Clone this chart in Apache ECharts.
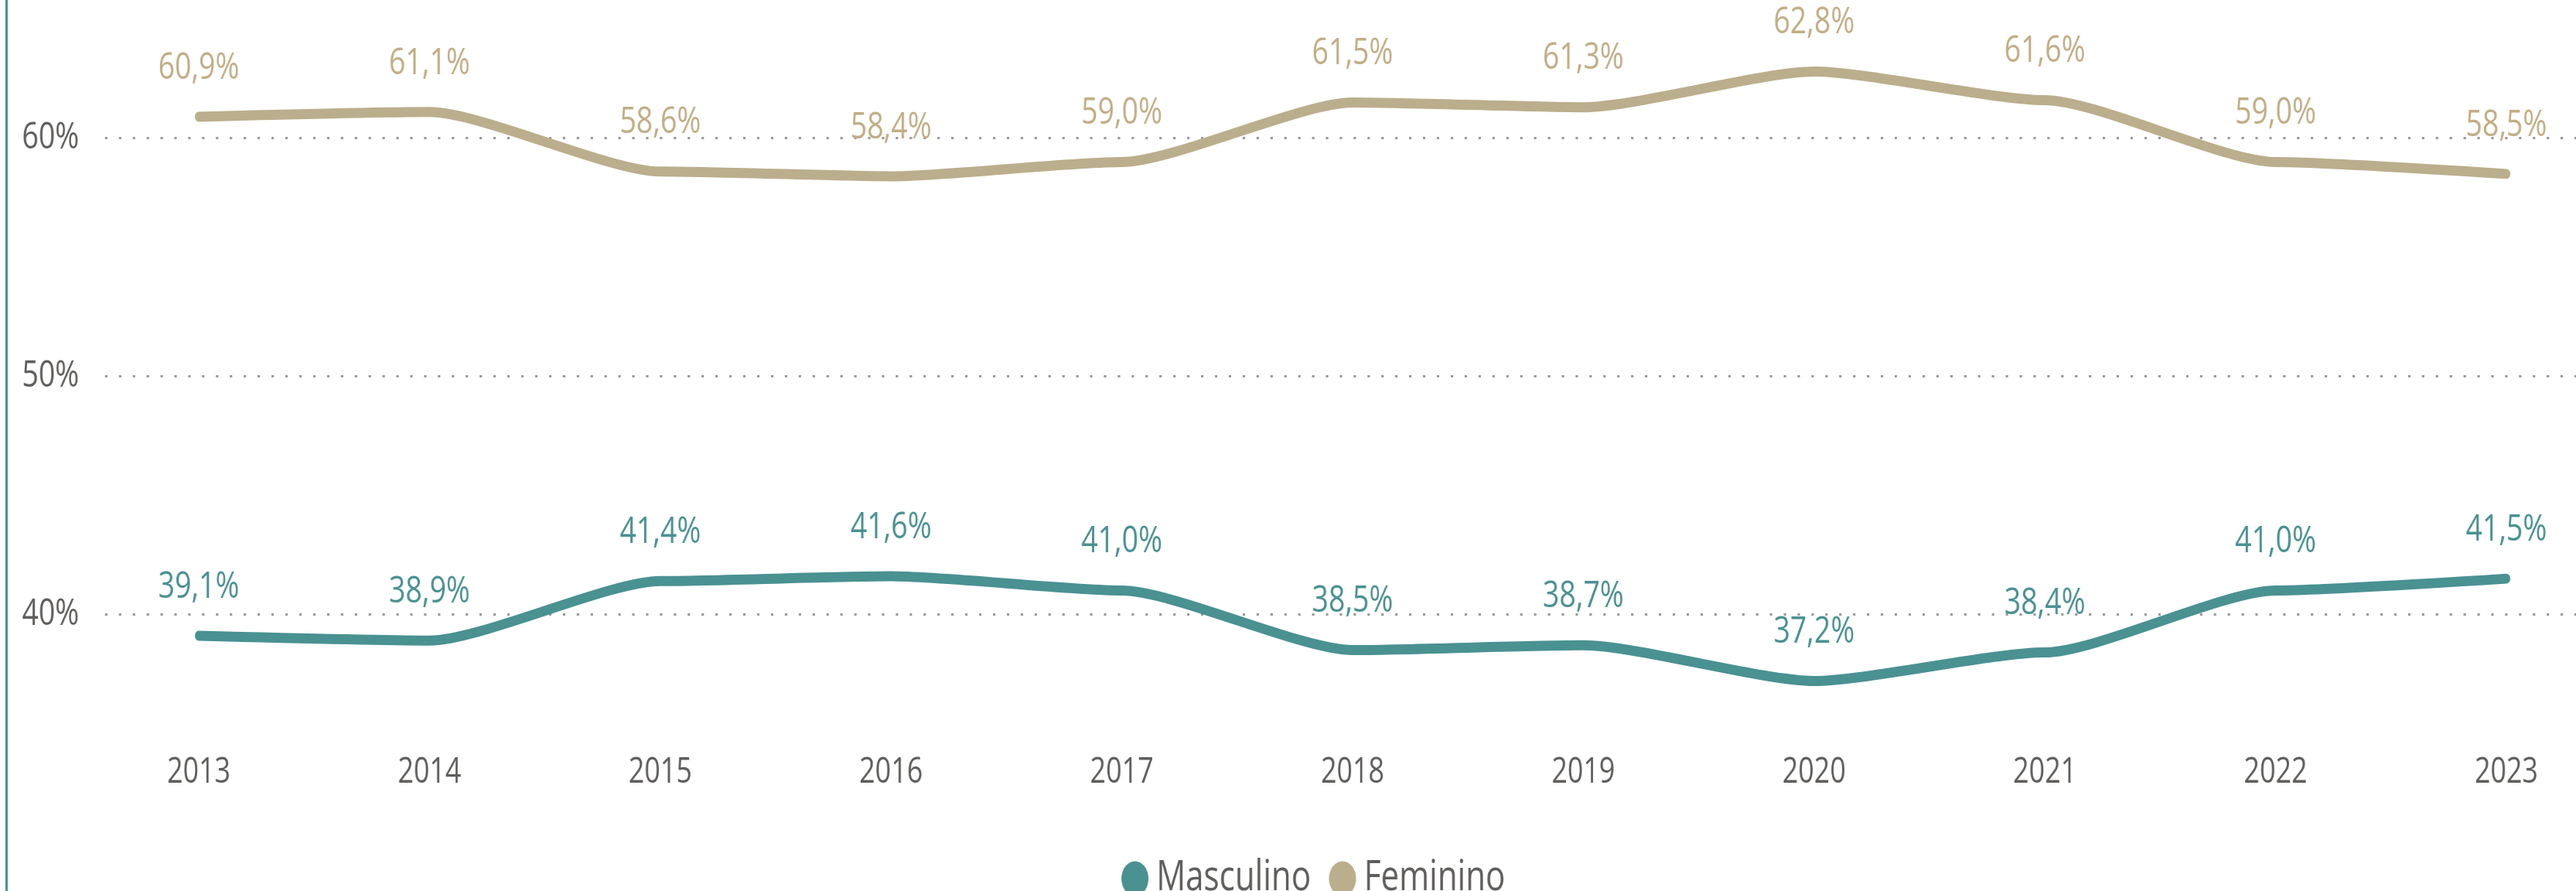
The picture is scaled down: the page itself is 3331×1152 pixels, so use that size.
<!DOCTYPE html>
<html>
<head>
<meta charset="utf-8">
<script src="https://cdn.jsdelivr.net/npm/echarts@6/dist/echarts.min.js"></script>
<style>
  html, body {
    margin: 0;
    padding: 0;
    background: #fff;
    overflow: hidden;
  }
  #frame {
    position: relative;
    width: 3331px;
    height: 1152px;
    overflow: hidden;
  }
  #edge {
    position: absolute;
    left: 7px;
    top: 0;
    width: 3px;
    height: 1152px;
    background: #4a9192;
  }
  /* the source picture is stretched flat, so draw wide and squeeze */
  #myChart {
    width: 4271px;
    height: 1152px;
    transform: scaleX(0.78);
    transform-origin: 0 0;
  }
</style>
</head>
<body>
<div id="frame">
  <div id="myChart"></div>
  <div id="edge"></div>
</div>
<script>
var years = ["2013", "2014", "2015", "2016", "2017", "2018", "2019", "2020", "2021", "2022", "2023"];
var masculino = [39.1, 38.9, 41.4, 41.6, 41.0, 38.5, 38.7, 37.2, 38.4, 41.0, 41.5];
var feminino = [60.9, 61.1, 58.6, 58.4, 59.0, 61.5, 61.3, 62.8, 61.6, 59.0, 58.5];
var yTicks = { min: 40, max: 60, step: 10 };

var teal = "#4a9192";
var tan = "#bbae8c";
var grey = "#605e5c";
var font = "Open Sans";

function pct(p) {
  return p.value.toFixed(1).replace(".", ",") + "%";
}

function lineSeries(name, data, color, labelColor) {
  return {
    name: name,
    type: "line",
    xAxisIndex: 0,
    yAxisIndex: 0,
    data: data,
    smooth: 0.22,
    smoothMonotone: "x",
    symbol: "circle",
    symbolSize: 2,
    itemStyle: { color: color },
    lineStyle: { color: color, width: 13, cap: "round", join: "round" },
    label: {
      show: true,
      position: "top",
      distance: 38,
      formatter: pct,
      color: labelColor,
      fontFamily: font,
      fontSize: 48
    },
    emphasis: { disabled: true },
    z: 3
  };
}

var myChart = echarts.init(document.getElementById("myChart"));
var option = {
  backgroundColor: "#fff",
  animation: false,
  textStyle: { fontFamily: font },
  legend: {
    left: 1854,
    top: 1104,
    icon: "circle",
    itemWidth: 45,
    itemHeight: 45,
    itemGap: 30,
    textStyle: {
      color: grey,
      fontFamily: font,
      fontSize: 54,
      padding: [0, 0, 0, 8]
    },
    data: ["Masculino", "Feminino"]
  },
  grid: [
    // data grid: 35..65 keeps the same px per % as the tick grid
    { left: 329.5, right: 116, top: 24.8, bottom: 203.8 },
    // tick grid: dotted lines from the labels to the right edge
    { left: 174, right: 0, top: 178.7, bottom: 357.7 }
  ],
  xAxis: [
    {
      gridIndex: 0,
      type: "category",
      data: years,
      boundaryGap: false,
      axisLine: { show: false },
      axisTick: { show: false },
      axisLabel: {
        color: grey,
        fontFamily: font,
        fontSize: 46,
        margin: 28
      }
    },
    { gridIndex: 1, type: "value", show: false }
  ],
  yAxis: [
    { gridIndex: 0, type: "value", min: 35, max: 65, show: false },
    {
      gridIndex: 1,
      type: "value",
      min: yTicks.min,
      max: yTicks.max,
      interval: yTicks.step,
      axisLine: { show: false },
      axisTick: { show: false },
      axisLabel: {
        color: grey,
        fontFamily: font,
        fontSize: 48,
        margin: 43,
        formatter: "{value}%"
      },
      splitLine: {
        show: true,
        lineStyle: { color: "#999999", width: 3, type: [4, 19] }
      }
    }
  ],
  series: [
    lineSeries("Masculino", masculino, teal, teal),
    lineSeries("Feminino", feminino, tan, "#c2ad85")
  ]
};

myChart.setOption(option);
</script>
</body>
</html>
